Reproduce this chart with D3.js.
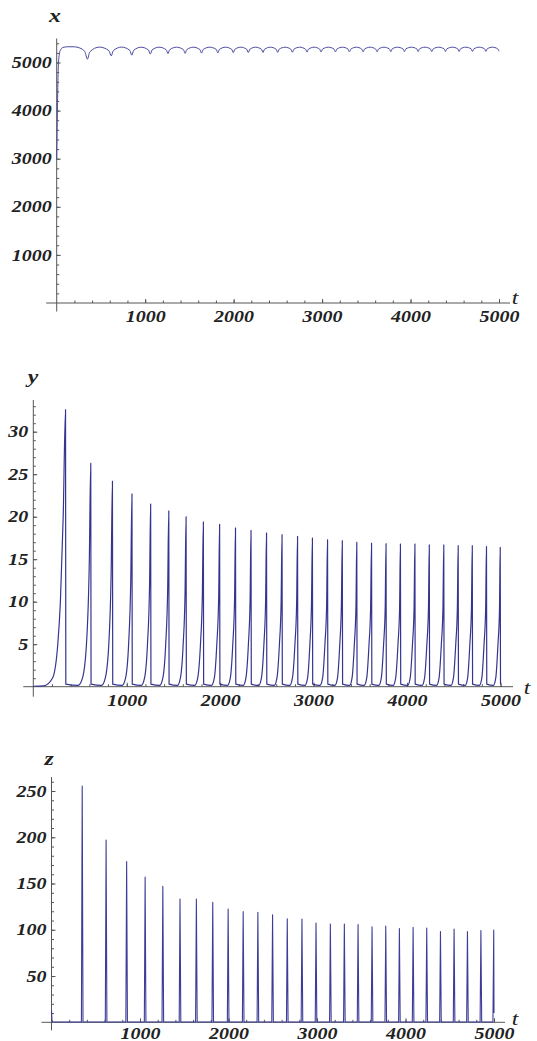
<!DOCTYPE html>
<html><head><meta charset="utf-8">
<script src="https://cdn.jsdelivr.net/npm/d3@7"></script>
<style>html,body{margin:0;padding:0;background:#fff}svg{display:block}</style>
</head><body>
<script>
// ---------- data ----------
const tTicks = [1000, 2000, 3000, 4000, 5000];
const xTicks = [1000, 2000, 3000, 4000, 5000];
const yTicks = [5, 10, 15, 20, 25, 30];
const zTicks = [50, 100, 150, 200, 250];

// x(t): fast rise, then arches with cusps at each spike time
const xSeries = [
 [0,3000],[8,4000],[20,5000],[40,5250],[70,5312],[130,5328],[200,5326],[260,5302],[318,5225],[347,5069],
 [374,5220],[482,5320],[590,5247],[617,5138],
 [640,5247],[733,5320],[826,5253],[849,5152],
 [870,5253],[954,5318],[1037,5261],[1058,5175],
 [1078,5261],[1158,5318],[1238,5265],[1258,5186],
 [1277,5265],[1355,5318],[1433,5267],[1452,5190],
 [1470,5267],[1545,5318],[1619,5269],[1637,5195],
 [1655,5269],[1730,5318],[1804,5271],[1822,5200],
 [1839,5271],[1909,5318],[1979,5273],[1996,5205],
 [2013,5273],[2081,5318],[2149,5274],[2166,5208],
 [2183,5274],[2249,5318],[2315,5275],[2332,5210],
 [2349,5275],[2415,5318],[2481,5276],[2498,5212],
 [2515,5276],[2581,5318],[2647,5276],[2664,5214],
 [2681,5276],[2747,5318],[2813,5277],[2830,5216],
 [2846,5277],[2910,5318],[2973,5278],[2989,5218],
 [3005,5278],[3070,5318],[3135,5279],[3151,5220],
 [3167,5279],[3230,5318],[3293,5279],[3309,5221],
 [3325,5279],[3387,5318],[3448,5280],[3464,5222],
 [3480,5280],[3543,5318],[3606,5280],[3622,5223],
 [3638,5280],[3700,5318],[3761,5281],[3777,5224],
 [3792,5281],[3854,5318],[3916,5281],[3931,5225],
 [3946,5281],[4009,5318],[4071,5282],[4086,5226],
 [4101,5282],[4163,5318],[4225,5282],[4240,5227],
 [4256,5282],[4318,5318],[4380,5282],[4395,5228],
 [4410,5282],[4472,5318],[4534,5283],[4549,5229],
 [4564,5283],[4625,5318],[4685,5283],[4700,5230],
 [4715,5283],[4776,5318],[4837,5284],[4852,5231],
 [4867,5284],[4926,5318],[4985,5284],[5000,5232]
];

// y(t): slow convex rise, sharp drop at each spike
const ySeries = [
 [0,0.05],[110,0.1],[205,1],[262,5],[290,10],[320,20],[345,32.6],[348,0.3],
 [480,0.15],[526,1],[569,5],[599,14.5],[615,26.3],[618,0.3],
 [731,0.15],[770,1],[808,5],[833,13.3],[847,24.2],[850,0.3],
 [951,0.15],[987,1],[1020,5],[1043,12.5],[1056,22.7],[1059,0.3],
 [1156,0.15],[1190,1],[1222,5],[1244,11.8],[1256,21.5],[1259,0.3],
 [1353,0.15],[1386,1],[1417,5],[1438,11.4],[1450,20.7],[1453,0.3],
 [1543,0.15],[1574,1],[1604,5],[1624,11.0],[1635,20.0],[1638,0.3],
 [1728,0.15],[1759,1],[1789,5],[1809,10.7],[1820,19.4],[1823,0.3],
 [1907,0.15],[1937,1],[1964,5],[1984,10.5],[1994,19.1],[1997,0.3],
 [2079,0.15],[2108,1],[2135,5],[2154,10.3],[2164,18.7],[2167,0.3],
 [2247,0.15],[2275,1],[2302,5],[2320,10.1],[2330,18.4],[2333,0.3],
 [2413,0.15],[2441,1],[2468,5],[2486,10.0],[2496,18.1],[2499,0.3],
 [2579,0.15],[2607,1],[2634,5],[2652,9.8],[2662,17.9],[2665,0.3],
 [2745,0.15],[2773,1],[2800,5],[2818,9.7],[2828,17.7],[2831,0.3],
 [2908,0.15],[2935,1],[2960,5],[2977,9.6],[2987,17.5],[2990,0.3],
 [3068,0.15],[3096,1],[3121,5],[3139,9.5],[3149,17.3],[3152,0.3],
 [3228,0.15],[3255,1],[3280,5],[3297,9.5],[3307,17.2],[3310,0.3],
 [3385,0.15],[3411,1],[3436,5],[3453,9.4],[3462,17.0],[3465,0.3],
 [3541,0.15],[3568,1],[3593,5],[3610,9.3],[3620,16.9],[3623,0.3],
 [3698,0.15],[3724,1],[3749,5],[3766,9.3],[3775,16.85],[3778,0.3],
 [3852,0.15],[3878,1],[3903,5],[3920,9.2],[3929,16.8],[3932,0.3],
 [4007,0.15],[4033,1],[4058,5],[4075,9.2],[4084,16.8],[4087,0.3],
 [4161,0.15],[4187,1],[4212,5],[4229,9.2],[4238,16.7],[4241,0.3],
 [4316,0.15],[4342,1],[4367,5],[4384,9.2],[4393,16.7],[4396,0.3],
 [4470,0.15],[4496,1],[4521,5],[4538,9.1],[4547,16.6],[4550,0.3],
 [4623,0.15],[4648,1],[4672,5],[4689,9.1],[4698,16.6],[4701,0.3],
 [4774,0.15],[4800,1],[4824,5],[4841,9.1],[4850,16.5],[4853,0.3],
 [4924,0.15],[4949,1],[4973,5],[4989,9.0],[4997,16.4],[5000,0.3]
];

// z(t): narrow spikes
const zSeries = [
 [0,13],[5,3],[12,0.3],
 [338,0.3],[347,255.3],[356,0.3],
 [608,0.3],[617,197.1],[626,0.3],
 [840,0.3],[849,173.8],[858,0.3],
 [1049,0.3],[1058,156.9],[1067,0.3],
 [1249,0.3],[1258,146.9],[1267,0.3],
 [1443,0.3],[1452,133.2],[1461,0.3],
 [1628,0.3],[1637,133.2],[1646,0.3],
 [1813,0.3],[1822,129.6],[1831,0.3],
 [1987,0.3],[1996,122.4],[2005,0.3],
 [2157,0.3],[2166,119.6],[2175,0.3],
 [2323,0.3],[2332,118.9],[2341,0.3],
 [2489,0.3],[2498,116.3],[2507,0.3],
 [2655,0.3],[2664,112.0],[2673,0.3],
 [2821,0.3],[2830,111.7],[2839,0.3],
 [2980,0.3],[2989,107.4],[2998,0.3],
 [3142,0.3],[3151,106.3],[3160,0.3],
 [3300,0.3],[3309,106.3],[3318,0.3],
 [3455,0.3],[3464,105.6],[3473,0.3],
 [3613,0.3],[3622,103.1],[3631,0.3],
 [3768,0.3],[3777,104.1],[3786,0.3],
 [3922,0.3],[3931,101.3],[3940,0.3],
 [4077,0.3],[4086,102.7],[4095,0.3],
 [4231,0.3],[4240,102.0],[4249,0.3],
 [4386,0.3],[4395,98.0],[4404,0.3],
 [4540,0.3],[4549,100.9],[4558,0.3],
 [4691,0.3],[4700,98.0],[4709,0.3],
 [4843,0.3],[4852,99.1],[4861,0.3],
 [4988,0.3],[4997,99.8],[5000,10]
];

// ---------- layout ----------
const W = 537, H = 1041;
const AX = "#555", TXT = "#222";
const FONT = "'Liberation Serif','Times New Roman',serif";
const panels = [
 { name: "x", data: xSeries, curve: d3.curveMonotoneX, color: "#4a4aa0", width: 1, yMax: 5000, yTicks: xTicks, yMinorStep: 200, yMinorMax: 5400,
   xr: [56.7, 499], yr: [303, 62.5], xAxisExt: [10.5, 11], yAxisExt: [8.5, 24], pad: 8, tLab: [515, 304], vLab: [55, 22] },
 { name: "y", data: ySeries, curve: d3.curveMonotoneX, color: "#35358f", width: 1.2, yMax: 30, yTicks: yTicks, yMinorStep: 1, yMinorMax: 33,
   xr: [33.3, 500.5], yr: [686.7, 431.7], xAxisExt: [10, 12.5], yAxisExt: [10, 31.7], pad: 8, tLab: [527, 694], vLab: [33, 383] },
 { name: "z", data: zSeries, curve: d3.curveLinear, color: "#3d3d99", width: 1.1, yMax: 250, yTicks: zTicks, yMinorStep: 10, yMinorMax: 260,
   xr: [51.5, 494], yr: [1022.3, 791], xAxisExt: [10, 11], yAxisExt: [8, 14], pad: 5, tLab: [515, 1025], vLab: [49, 765] }
];
const tMinor = d3.range(200, 5001, 200);
const SX = 1.25;

const svg = d3.select("body").append("svg").attr("width", W).attr("height", H)
  .style("font-family", FONT);

panels.forEach(p => {
  const sx = d3.scaleLinear().domain([0, 5000]).range(p.xr);
  const sy = d3.scaleLinear().domain([0, p.yMax]).range(p.yr);
  const g = svg.append("g");
  const y0 = sy(0), x0 = sx(0);

  // axis lines
  g.append("line").attr("x1", x0 - p.xAxisExt[0]).attr("x2", sx(5000) + p.xAxisExt[1])
    .attr("y1", y0).attr("y2", y0).attr("stroke", AX).attr("stroke-width", 1);
  g.append("line").attr("x1", x0).attr("x2", x0)
    .attr("y1", y0 + p.yAxisExt[0]).attr("y2", sy(p.yMax) - p.yAxisExt[1]).attr("stroke", AX).attr("stroke-width", 1);

  // x axis ticks
  const gxMinor = g.append("g").attr("transform", `translate(0,${y0})`)
    .call(d3.axisBottom(sx).tickValues(tMinor).tickSize(-2.5).tickFormat(""));
  const gx = g.append("g").attr("transform", `translate(0,${y0})`)
    .call(d3.axisBottom(sx).tickValues(tTicks).tickSize(-4).tickPadding(p.pad).tickFormat(d3.format("d")));
  // y axis ticks
  const yMinor = d3.range(p.yMinorStep, p.yMinorMax + 1e-9, p.yMinorStep);
  const gyMinor = g.append("g").attr("transform", `translate(${x0},0)`)
    .call(d3.axisLeft(sy).tickValues(yMinor).tickSize(-2.5).tickFormat(""));
  const gy = g.append("g").attr("transform", `translate(${x0},0)`)
    .call(d3.axisLeft(sy).tickValues(p.yTicks).tickSize(-4).tickPadding(4).tickFormat(d3.format("d")));

  [gxMinor, gx, gyMinor, gy].forEach(a => {
    a.attr("font-family", null).attr("font-size", null);
    a.select(".domain").remove();
    a.selectAll(".tick line").attr("stroke", AX).attr("stroke-width", 1);
    a.selectAll(".tick text").attr("fill", TXT)
      .style("font-family", FONT).style("font-size", "16px")
      .style("font-style", "italic").style("font-weight", "bold")
      .attr("transform", `scale(${SX},1)`);
  });

  // series
  const line = d3.line().x(d => sx(d[0])).y(d => sy(d[1])).curve(p.curve);
  g.append("path").datum(p.data).attr("d", line)
    .attr("fill", "none").attr("stroke", p.color).attr("stroke-width", p.width).attr("stroke-linejoin", "round");

  // axis titles
  g.append("text").attr("transform", `translate(${p.vLab[0]},${p.vLab[1]}) scale(${SX},1)`)
    .attr("text-anchor", "middle").style("font-family", FONT).style("font-size", "19px")
    .style("font-style", "italic").style("font-weight", "bold")
    .attr("fill", TXT).text(p.name);
  g.append("text").attr("transform", `translate(${p.tLab[0]},${p.tLab[1]}) scale(${SX},1)`)
    .attr("text-anchor", "middle").style("font-family", FONT).style("font-size", "19px").style("font-style", "italic")
    .attr("fill", TXT).text("t");
});
</script>
</body></html>
